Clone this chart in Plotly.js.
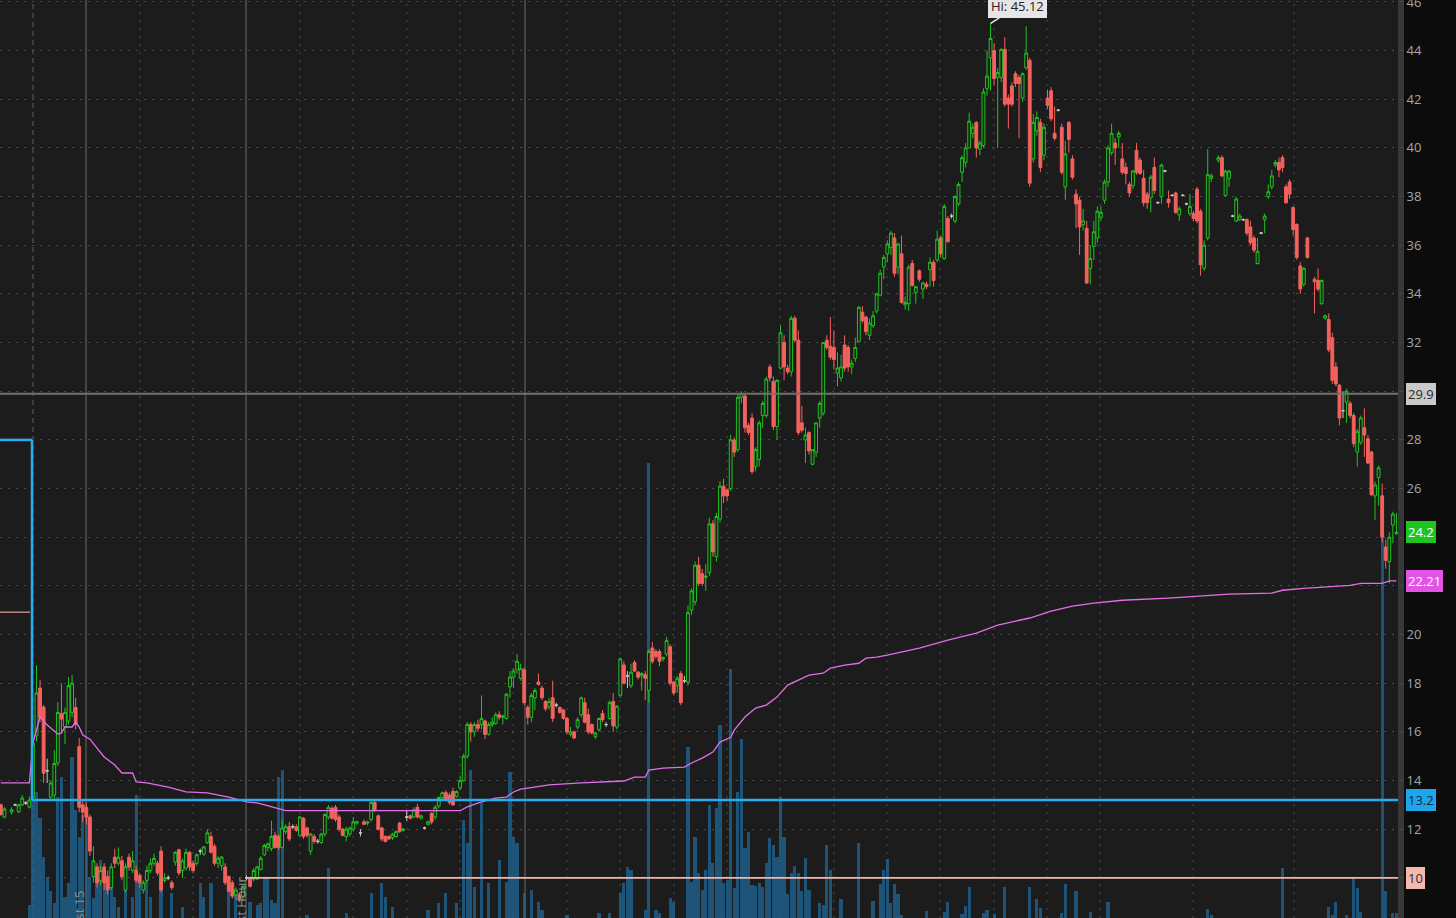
<!DOCTYPE html>
<html><head><meta charset="utf-8">
<script src="https://cdn.plot.ly/plotly-3.0.1.min.js"></script>
<style>html,body{margin:0;padding:0;background:#0c0c0c;overflow:hidden}#chart{width:1456px;height:918px}</style>
</head><body><div id="chart"></div>
<script>
// ---- DATA (1-minute bars; bar = slot number in the session) ----
const bar = [
0,1,3,4,5,6,7,8,9,
10,11,12,13,14,15,16,17,18,19,20,21,22,23,24,25,26,27,28,29,
30,31,32,33,34,35,36,37,38,39,40,41,42,43,44,45,46,47,48,49,
50,51,52,53,54,55,56,57,58,59,60,61,62,63,64,65,66,67,68,69,
70,71,72,73,74,75,76,77,78,79,80,81,82,83,84,85,86,87,88,89,
90,91,92,93,94,95,96,97,98,99,100,101,102,103,104,105,106,107,108,109,
110,111,112,113,114,115,116,117,118,119,120,121,122,123,124,125,126,127,128,129,
130,131,132,133,134,135,136,137,138,139,140,141,142,143,144,145,146,147,148,149,
150,151,152,153,154,155,156,157,158,159,160,161,162,163,164,165,166,167,168,169,
170,171,172,173,174,175,176,177,178,179,180,181,182,183,184,185,186,187,188,189,
190,191,192,193,194,195,196,197,198,199,200,201,202,203,204,205,206,207,208,209,
210,211,212,213,214,215,216,217,218,219,220,221,222,223,224,225,226,227,228,229,
230,231,232,233,234,235,236,237,238,239,240,241,242,243,244,245,246,247,248,249,
250,251,252,253,254,255,256,257,258,259,260,261,262,263,264,265,266,267,268,269,
270,271,272,273,274,275,276,277,278,279,280,281,282,283,284,285,286,287,288,289,
290,291,292,293,294,295,296,297,298,299,300,301,302,303,304,305,306,307,308,309,
310,311,312,313,314,315,316,317,318,319,320,321,322,323,324,325,326,327,328,329,
330,331,332,333,334,335,336,337,338,339,
340,342,343,344,345,346,347,348,349,
350,351,352,353,354,355,356,357,358,359,
360,361,362,363,364,365,366,367,369,
370,371,372,373,374,375,376,377,378,379,380,381,382,383,384,385,386,387,388,389,
390,391,392];

const open = [
13.00,12.50,12.70,13.00,12.72,13.00,13.08,12.91,13.32,
15.84,17.80,17.02,14.40,13.32,13.40,14.72,16.74,16.20,16.45,
16.80,17.00,15.40,13.00,12.90,12.50,10.05,10.45,9.90,10.45,
10.05,9.60,10.85,10.60,10.70,9.50,10.85,10.30,10.30,10.10,
9.50,9.90,10.30,10.60,10.60,11.10,9.90,10.00,9.80,10.65,
11.15,10.30,10.40,11.05,10.60,10.60,11.10,10.98,11.45,11.70,
11.30,10.60,10.50,10.45,10.05,9.80,9.30,9.30,9.25,10.00,
9.95,9.95,9.95,10.35,10.95,11.25,11.20,11.75,11.70,11.25,
11.90,12.10,12.10,12.10,11.75,12.45,12.05,11.10,11.70,11.50,
11.45,11.80,12.50,12.85,12.90,12.50,12.00,11.70,11.80,12.00,
12.25,11.85,12.30,12.25,12.40,13.10,12.55,12.05,11.70,11.70,
11.65,11.70,12.25,11.95,12.50,12.55,12.50,12.90,12.45,12.05,
12.20,12.65,12.50,12.95,13.30,13.50,13.40,13.55,13.35,13.70,
14.00,15.00,16.30,16.00,16.30,16.30,16.45,15.90,16.30,16.35,
16.70,16.60,16.55,17.85,18.25,18.55,18.20,18.55,17.00,16.60,
17.40,18.05,17.80,17.25,17.05,17.40,17.10,17.00,16.90,16.55,
15.90,16.00,16.20,16.70,17.20,16.70,16.30,15.80,16.10,16.75,
16.30,16.55,17.25,16.20,17.50,18.75,18.30,17.90,18.85,18.45,
18.30,18.35,17.70,19.45,19.30,19.30,19.00,19.20,19.50,18.05,
17.90,18.40,18.10,18.05,21.00,21.35,22.85,22.50,22.35,22.55,
24.55,23.20,24.75,26.10,25.95,26.00,28.00,27.60,29.75,29.80,
28.60,28.90,26.90,27.20,29.00,29.00,31.00,30.40,28.55,30.95,
32.00,30.95,30.80,33.00,32.10,28.70,28.00,28.30,27.00,27.50,
28.90,29.10,32.10,31.85,31.80,30.75,30.55,31.90,31.80,31.00,
31.35,32.05,33.25,33.05,32.30,32.70,33.30,33.95,35.10,35.65,
35.90,36.30,35.10,35.65,33.55,33.60,35.25,34.05,34.95,34.20,
34.40,35.00,35.30,35.40,36.30,35.45,37.10,37.20,37.00,37.70,
39.00,39.40,40.00,40.60,41.05,39.95,40.10,42.45,43.70,44.00,
42.90,42.90,44.05,42.05,42.55,43.05,42.90,42.05,43.30,43.60,
39.55,40.70,41.05,39.70,42.05,42.35,40.60,41.55,40.85,38.40,
41.05,39.55,38.10,37.85,36.85,36.70,35.05,35.95,36.30,37.15,
37.85,38.60,39.80,40.20,40.45,39.55,39.20,38.50,38.45,39.90,
39.50,38.75,38.10,37.95,39.20,37.75,38.00,39.05,37.90,38.05,
38.15,37.25,38.05,37.70,37.30,37.30,38.30,37.40,35.05,36.30,
38.75,39.50,39.60,38.05,38.75,37.20,37.00,37.05,37.05,
37.05,36.75,36.30,35.25,36.50,37.05,38.00,38.40,39.30,39.40,
39.60,38.40,38.60,37.55,36.85,35.15,34.40,36.30,34.60,
34.55,33.60,33.00,32.95,32.20,31.00,30.25,29.20,29.55,29.50,
29.00,27.50,27.90,28.50,28.05,27.50,25.70,26.45,25.70,23.60,
23.00,24.50,24.15];

const high = [
13.05,12.90,12.90,13.05,13.05,13.40,13.15,13.35,15.80,
18.74,18.13,17.10,14.90,14.00,15.25,17.22,18.00,17.00,18.25,
18.33,17.40,15.75,13.20,13.10,12.60,11.30,10.60,10.50,10.60,
10.30,10.60,11.20,11.25,10.90,10.60,11.00,11.10,10.50,10.20,
9.90,10.50,10.80,11.00,10.70,11.30,10.20,10.10,9.90,11.10,
11.20,10.80,11.20,11.10,10.70,11.00,11.20,11.30,12.00,11.90,
11.40,10.90,10.90,10.60,10.10,9.90,9.60,9.40,9.70,10.10,
10.05,10.40,10.50,10.90,11.40,11.45,12.35,11.90,11.80,12.40,
12.20,12.30,12.20,12.20,12.55,12.50,12.10,11.85,11.80,11.60,
11.85,12.65,13.00,12.95,13.00,12.60,12.05,12.10,12.10,12.50,
12.35,12.00,12.40,12.35,13.20,13.20,12.60,12.10,11.75,11.75,
11.85,11.95,12.30,12.05,12.80,12.60,12.90,13.05,12.60,12.10,
12.35,12.70,13.00,13.35,13.55,13.60,13.50,13.70,13.60,14.20,
15.10,16.40,16.40,16.40,16.50,17.50,16.50,16.40,16.60,16.80,
16.85,16.70,17.60,18.50,18.60,19.20,18.80,18.65,17.10,17.60,
17.80,18.40,17.90,17.30,17.40,18.10,17.20,17.05,16.95,16.60,
16.20,16.05,16.60,17.45,17.40,16.95,16.35,16.00,16.60,16.90,
16.40,17.30,17.60,17.10,19.05,18.90,18.50,18.80,18.95,18.50,
18.45,18.50,19.40,19.70,19.40,19.40,19.10,19.90,19.60,18.10,
18.30,18.50,18.30,21.20,21.90,23.00,23.20,22.70,22.90,24.80,
24.70,25.00,26.30,26.40,26.00,28.20,28.10,29.90,30.00,29.90,
28.70,29.10,27.70,28.80,29.60,30.60,31.10,30.60,30.50,32.70,
32.30,31.10,33.10,33.10,32.50,29.40,28.50,28.35,27.60,28.70,
29.60,32.00,32.30,33.05,32.50,31.60,31.50,32.30,31.90,31.30,
32.20,33.50,33.50,33.10,33.00,33.30,34.05,35.00,35.60,36.20,
36.60,36.50,36.10,36.40,33.90,35.20,35.40,34.30,35.00,34.50,
34.50,35.50,35.40,36.60,36.40,37.70,37.20,37.30,38.05,38.60,
39.70,40.20,41.45,41.00,41.10,40.30,42.45,44.00,45.12,44.30,
43.30,44.10,44.55,42.20,42.70,43.15,43.00,43.10,45.00,43.70,
41.40,41.50,41.20,41.00,42.40,42.50,41.70,41.60,41.00,40.30,
41.10,39.70,38.30,38.00,37.50,37.00,36.00,37.00,37.60,37.60,
38.70,40.10,41.00,40.40,40.70,40.20,39.40,38.60,39.10,40.20,
39.60,39.10,38.20,38.90,39.60,37.80,39.35,39.10,38.25,38.10,
38.20,37.60,38.10,37.75,38.10,37.40,38.40,37.50,36.20,39.95,
38.95,39.70,39.70,39.10,39.10,37.25,38.00,37.30,37.10,
37.10,37.00,36.40,36.30,36.55,37.30,38.50,39.10,39.50,39.60,
39.70,38.50,38.70,37.60,36.90,35.30,35.10,36.35,34.70,
35.05,34.60,33.15,33.20,32.40,31.20,30.30,30.00,30.10,29.60,
29.10,28.45,29.00,29.30,28.20,27.55,26.30,26.95,26.20,23.90,
24.20,25.05,25.00];

const low = [
12.55,12.45,12.60,12.95,12.65,12.95,13.00,12.85,13.20,
15.60,16.40,13.90,13.90,13.20,13.20,14.60,16.00,15.50,16.30,
16.60,16.10,12.70,12.30,12.20,10.90,9.80,9.60,9.70,9.50,
9.30,9.50,10.40,10.50,9.90,9.40,10.30,10.20,9.80,9.60,
9.35,9.80,10.20,10.50,10.10,9.40,9.80,9.90,9.50,10.50,
10.10,10.00,10.30,10.30,10.20,10.50,10.95,10.90,11.40,11.00,
10.50,10.40,10.30,9.70,9.40,9.15,9.10,9.00,9.05,9.90,
9.60,9.85,9.90,10.30,10.90,11.10,11.10,11.20,11.15,11.20,
11.80,11.50,12.00,11.90,11.70,11.60,11.65,10.95,11.40,11.40,
11.40,11.70,12.40,12.40,12.30,11.90,11.70,11.50,11.70,11.90,
12.20,11.70,12.20,12.15,12.30,12.70,11.95,11.50,11.45,11.55,
11.55,11.65,11.85,11.90,12.35,12.40,12.45,12.45,12.40,12.00,
12.15,12.20,12.40,12.85,13.20,13.15,13.00,12.95,13.30,13.60,
13.95,14.90,15.60,15.80,16.00,16.10,15.70,15.85,16.20,16.30,
16.50,16.30,16.50,17.40,17.80,18.40,18.10,17.10,16.30,16.40,
16.90,17.90,17.30,16.85,16.90,16.40,17.00,16.75,16.50,15.90,
15.80,15.70,16.10,16.60,16.35,15.90,15.90,15.70,16.00,16.40,
16.20,16.50,16.00,16.10,17.40,17.95,17.80,17.80,18.45,18.15,
17.70,17.30,17.20,18.80,19.00,18.70,18.90,19.10,17.90,17.50,
17.60,17.10,18.00,17.90,20.80,21.20,22.00,22.00,21.80,22.40,
23.20,23.00,24.60,25.40,25.50,25.90,27.30,27.50,29.50,28.30,
28.20,26.60,26.70,26.90,28.50,28.90,30.40,28.40,28.00,30.90,
30.45,30.70,30.60,32.00,28.20,28.30,27.05,27.40,26.95,27.30,
28.50,29.00,31.70,31.30,30.90,30.20,30.40,30.80,30.80,30.70,
31.20,32.00,32.80,32.30,32.10,32.60,33.20,33.90,34.60,35.30,
35.60,34.70,34.80,33.60,33.35,33.30,34.30,33.60,34.50,33.80,
34.20,34.30,34.30,35.30,35.50,35.40,36.10,37.10,36.90,37.60,
38.60,39.20,40.00,40.40,39.60,39.70,40.00,42.15,42.35,42.60,
40.00,42.70,41.70,40.80,41.70,42.50,40.40,41.90,43.20,38.40,
39.40,40.50,39.00,39.50,41.60,41.10,40.30,41.50,38.90,37.85,
39.80,38.70,36.70,35.60,36.60,34.40,34.40,35.40,36.10,37.00,
37.70,38.40,39.70,39.30,40.00,38.90,38.50,38.00,38.30,38.90,
38.90,37.60,37.50,37.35,38.10,37.70,37.70,39.00,37.55,38.00,
37.30,37.00,38.00,37.65,37.20,37.00,36.90,34.75,34.95,36.20,
38.60,39.40,38.80,38.00,38.40,37.15,36.95,37.00,37.00,
36.40,36.00,35.70,35.20,36.45,36.50,37.90,38.30,39.20,38.80,
39.00,37.70,37.90,36.40,35.40,34.00,34.30,35.45,33.20,
34.10,33.55,32.95,31.60,30.30,30.20,28.60,28.90,28.70,28.90,
27.70,26.90,27.80,27.30,27.00,25.70,24.70,25.30,23.80,22.70,
22.10,23.75,24.10];

const close = [
12.60,12.83,12.80,13.00,13.00,13.28,13.08,13.20,15.54,
17.60,16.60,14.30,14.40,13.90,14.70,16.80,16.53,16.80,17.90,
18.00,16.30,12.90,12.70,12.50,11.10,10.70,9.80,10.30,9.80,
9.50,10.45,10.60,10.85,10.05,10.45,10.45,10.70,9.90,9.80,
9.80,10.30,10.60,10.80,10.20,9.50,10.00,10.00,9.60,11.05,
10.20,10.70,11.05,10.45,10.30,10.95,11.10,11.27,11.85,11.05,
10.60,10.80,10.85,9.80,9.45,9.25,9.50,9.10,9.65,10.00,
9.65,10.30,10.45,10.80,11.33,11.40,11.70,11.25,11.25,12.05,
12.10,11.60,12.10,11.95,12.50,11.70,11.75,11.80,11.50,11.50,
11.80,12.60,12.90,12.45,12.40,12.00,11.75,12.00,12.05,12.30,
12.30,11.85,12.20,12.30,13.10,12.80,12.00,11.60,11.50,11.60,
11.80,11.90,11.90,12.00,12.50,12.45,12.80,12.50,12.55,12.05,
12.30,12.30,12.90,13.30,13.50,13.20,13.10,13.00,13.55,14.00,
15.00,16.30,16.00,16.30,16.15,16.55,15.90,16.30,16.40,16.70,
16.60,16.65,17.55,18.25,18.50,18.90,18.60,17.20,16.60,17.50,
17.70,17.95,17.40,16.95,17.25,16.55,17.10,16.80,16.55,16.00,
16.00,15.75,16.50,17.40,16.40,16.00,15.95,15.95,16.55,16.50,
16.30,17.20,16.25,17.05,19.00,18.00,18.30,18.45,18.50,18.25,
18.40,18.20,19.30,18.90,19.10,18.90,19.05,19.75,18.00,17.60,
18.20,17.20,18.10,20.90,21.80,22.85,22.10,22.10,22.40,24.55,
23.40,24.85,26.10,25.70,25.70,28.00,27.50,29.75,29.90,28.50,
28.30,26.70,27.60,28.70,29.50,30.50,30.55,28.55,30.45,32.40,
31.00,30.80,33.00,32.10,28.30,28.40,28.20,27.55,27.60,28.70,
29.50,32.00,31.80,31.40,31.30,30.95,31.00,30.95,31.00,31.15,
31.80,33.45,32.90,32.45,32.80,33.10,34.00,34.85,35.50,36.05,
36.50,34.85,36.05,33.65,33.65,35.10,34.35,34.30,34.60,34.45,
34.30,35.30,34.55,36.25,35.65,37.60,36.15,37.20,38.00,38.50,
39.60,40.00,41.10,40.85,40.00,40.20,42.30,42.95,44.50,42.85,
43.10,44.05,41.80,41.80,41.80,42.65,42.65,43.05,43.90,38.55,
41.05,41.25,39.20,40.85,41.75,41.20,40.40,41.55,39.00,39.75,
40.35,38.80,37.70,36.75,37.00,34.45,35.45,36.55,37.40,37.35,
38.60,40.00,40.60,40.00,40.60,39.00,38.95,38.15,39.05,39.00,
38.95,37.75,37.75,38.80,38.25,37.75,39.30,39.05,37.75,38.05,
37.35,37.50,38.05,37.70,37.60,37.10,37.00,35.20,36.00,38.90,
38.85,39.60,38.85,39.05,39.05,37.20,37.90,37.20,37.05,
36.50,36.10,35.80,35.75,36.50,37.20,38.20,38.85,39.40,39.10,
39.20,37.75,38.10,36.65,35.50,34.20,35.05,35.50,34.50,
34.20,34.55,33.10,31.70,30.45,30.30,28.90,29.20,30.00,29.00,
27.85,28.35,28.90,28.20,27.05,25.75,26.15,26.85,24.00,23.05,
24.00,24.95,24.20];

// volume, thousands of shares
const volBar = [8,9,10,11,12,13,14,15,16,17,18,19,20,21,22,23,24,25,26,27,28,29,30,31,32,33,
35,37,38,39,41,42,45,48,51,56,57,59,64,66,70,72,73,74,75,76,77,78,79,86,92,97,104,107,108,110,
120,123,125,128,130,131,132,133,135,137,140,142,143,144,145,147,149,151,152,159,
168,171,174,175,176,177,181,182,184,185,188,189,193,194,195,196,197,198,199,200,
201,202,203,204,205,206,207,208,209,210,211,212,213,214,215,216,217,218,219,220,
221,222,223,224,225,226,227,230,231,232,233,236,241,245,247,248,249,
250,251,252,253,260,265,266,270,271,272,276,277,279,282,289,291,292,298,299,302,
306,311,339,340,360,373,374,375,378,380,381,382,388,389,391,392];
const volK = [13,126,126,100,61,41,27,15,121,141,21,35,161,108,81,103,101,41,20,38,58,48,35,38,21,11,
35,21,123,35,38,21,35,25,11,35,21,35,31,28,16,13,15,41,41,18,15,141,148,3,50,5,25,35,21,11,
8,15,25,15,98,75,148,31,115,35,58,36,146,81,75,25,28,16,8,3,
5,5,25,35,51,48,8,455,8,5,20,16,171,36,81,45,28,48,113,55,
110,193,35,38,249,30,126,179,70,86,33,32,35,31,55,80,73,61,121,81,
24,45,52,45,27,60,28,15,13,73,48,19,75,17,34,48,59,
15,34,24,3,7,6,16,4,12,31,5,8,4,31,31,19,10,5,34,27,
6,16,9,3,50,11,3,16,3,41,30,6,380,27,5,5];

// VWAP study
const vwapBar = [0,8,9,11,13,16,17,18,20,21,22,23,25,27,29,32,34,37,38,41,47,52,58,64,69,72,78,80,106,129,
131,135,139,142,144,146,148,154,163,171,175,178,181,182,186,192,194,197,200,202,205,206,209,212,215,218,221,224,227,231,
233,237,241,243,246,249,258,266,274,280,289,295,301,307,315,328,336,345,357,360,366,373,379,382,388,390,392];
const vwap = [13.90,13.90,15.54,16.61,16.28,15.91,15.95,16.20,16.20,16.40,16.20,15.87,15.70,15.33,14.97,14.64,14.31,14.31,13.94,13.90,
13.73,13.53,13.49,13.32,13.12,13.08,12.83,12.76,12.76,12.76,12.92,13.12,13.28,13.32,13.53,13.65,13.69,13.82,13.90,13.94,
13.98,14.14,14.14,14.43,14.51,14.55,14.72,14.92,15.17,15.58,15.78,16.07,16.61,16.98,17.10,17.43,17.92,18.13,18.33,18.41,
18.62,18.74,18.82,19.03,19.07,19.15,19.44,19.77,20.06,20.39,20.68,20.96,21.17,21.29,21.41,21.50,21.58,21.66,21.70,21.82,
21.90,21.98,22.02,22.10,22.10,22.21,22.21];

// price levels
const levelPrior = 28.0;     // pre-market level (blue, before the open)
const levelBlue = 13.2;      // blue level after the open
const levelGray = 29.9;      // gray level
const levelPink = 10.0;      // pink level
const levelSalmon = 20.92;   // short pre-market salmon line
const priceTicks = [10,12,14,16,18,20,22,24,26,28,30,32,34,36,38,40,42,44,46];

// ---- BUILD ----
const W = 1398, H = 918;
const px = v => v / W; // paper x from pixel
const isDoji = bar.map((b,i) => open[i] === close[i]);
const pick = (arr, want) => arr.filter((v,i) => isDoji[i] === want);

const GREEN = '#1fc41f', RED = '#f4625e';

const traces = [
  { type:'bar', x: volBar, y: volK, xaxis:'x', yaxis:'y',
    marker:{color:'rgba(30,100,145,0.78)', line:{width:0}}, width:0.9, hoverinfo:'skip' },
  { type:'scatter', mode:'lines', x: vwapBar, y: vwap, xaxis:'x', yaxis:'y2',
    line:{color:'#e46ee8', width:1.3}, hoverinfo:'skip' },
  { type:'candlestick', x: pick(bar,false), open: pick(open,false), high: pick(high,false),
    low: pick(low,false), close: pick(close,false), xaxis:'x', yaxis:'y2', whiskerwidth:0,
    increasing:{line:{color:GREEN, width:1}, fillcolor:'#1c1c1c'},
    decreasing:{line:{color:RED, width:1}, fillcolor:RED}, hoverinfo:'skip' },
  { type:'candlestick', x: pick(bar,true), open: pick(open,true), high: pick(high,true),
    low: pick(low,true), close: pick(close,true), xaxis:'x', yaxis:'y2', whiskerwidth:0,
    increasing:{line:{color:'#c8c8c8', width:1}, fillcolor:'#c8c8c8'},
    decreasing:{line:{color:'#c8c8c8', width:1}, fillcolor:'#c8c8c8'}, hoverinfo:'skip' }
];

const shapes = [];
// dotted vertical grid
[140,193,300,353,407,460,513,567,620,674,727,780,834,887,940,994,1047,1100,1193,1294].forEach(p => {
  shapes.push({type:'line', xref:'paper', yref:'paper', x0:px(p), x1:px(p), y0:0, y1:1,
    line:{color:'#4a4a4a', width:1, dash:'2px,6px'}, layer:'below'});
});
// session separators
shapes.push({type:'line', xref:'paper', yref:'paper', x0:px(33), x1:px(33), y0:0, y1:1,
  line:{color:'#5e5e5e', width:1, dash:'5px,4px'}, layer:'below'});
[86,246,525].forEach(p => shapes.push({type:'line', xref:'paper', yref:'paper', x0:px(p), x1:px(p), y0:0, y1:1,
  line:{color:'#6a6a6a', width:1}, layer:'below'}));
// right axis band
shapes.push({type:'rect', xref:'paper', yref:'paper', x0:1, x1:1+6/W, y0:0, y1:1,
  fillcolor:'#383838', line:{width:0}, layer:'below'});
// level lines
shapes.push({type:'line', xref:'paper', yref:'y2', x0:0, x1:1, y0:levelGray, y1:levelGray,
  line:{color:'#707070', width:2}, layer:'above'});
shapes.push({type:'line', xref:'paper', yref:'y2', x0:px(247), x1:1, y0:levelPink, y1:levelPink,
  line:{color:'#f2b6ad', width:1.6}, layer:'above'});
shapes.push({type:'line', xref:'paper', yref:'y2', x0:0, x1:px(30), y0:levelSalmon, y1:levelSalmon,
  line:{color:'#e9a39a', width:1.2}, layer:'above'});
shapes.push({type:'line', xref:'paper', yref:'y2', x0:0, x1:px(32), y0:levelPrior, y1:levelPrior,
  line:{color:'#27adf0', width:2.5}, layer:'above'});
shapes.push({type:'line', xref:'paper', yref:'y2', x0:px(32), x1:px(32), y0:levelPrior, y1:levelBlue,
  line:{color:'#27adf0', width:2.5}, layer:'above'});
shapes.push({type:'line', xref:'paper', yref:'y2', x0:px(32), x1:1, y0:levelBlue, y1:levelBlue,
  line:{color:'#27adf0', width:2.5}, layer:'above'});

// right-side value tags
const lastClose = close[close.length-1];
const lastVwap = vwap[vwap.length-1];
const tag = (y, text, bg, fg) => ({xref:'paper', yref:'y2', x:1, y:y, xanchor:'left', yanchor:'middle',
  xshift:8, text:text, showarrow:false, bgcolor:bg, bordercolor:bg, borderpad:1,
  font:{family:'Open Sans', size:13, color:fg}});
let hiIdx = 0; high.forEach((h,i) => { if (h > high[hiIdx]) hiIdx = i; });

const annotations = [
  tag(levelGray, String(levelGray), '#c9c9c9', '#2a2a2a'),
  tag(lastClose, String(lastClose), '#1fc41f', '#ffffff'),
  tag(lastVwap, lastVwap.toFixed(2), '#e354e6', '#ffffff'),
  tag(levelBlue, String(levelBlue), '#1ea6ec', '#0e2a40'),
  tag(levelPink, String(levelPink), '#f5b8af', '#2a2a2a'),
  {xref:'x', yref:'y2', x: bar[hiIdx], y: high[hiIdx], text:'Hi: ' + high[hiIdx].toFixed(2),
   showarrow:true, arrowhead:0, arrowwidth:1.5, arrowcolor:'#e6e6e6', ax:27, ay:-17,
   bgcolor:'#e6e6e6', bordercolor:'#e6e6e6', borderpad:2,
   font:{family:'Open Sans', size:13, color:'#222'}},
  {xref:'paper', yref:'paper', x:px(78.5), y:(H-888)/H, xanchor:'center', yanchor:'top',
   text:'1st 15', textangle:-90, showarrow:false, font:{family:'Open Sans', size:13, color:'#8e8e8e'}},
  {xref:'paper', yref:'paper', x:px(240), y:(H-875)/H, xanchor:'center', yanchor:'top',
   text:'1st Hour', textangle:-90, showarrow:false, font:{family:'Open Sans', size:13, color:'#8e8e8e'}}
];

const layout = {
  width:1456, height:918, margin:{l:0, r:58, t:0, b:0},
  paper_bgcolor:'#0c0c0c', plot_bgcolor:'#1c1c1c',
  showlegend:false, boxgap:0.12, boxgroupgap:0.1, bargap:0,
  xaxis:{range:[-0.25, 392.45], showgrid:false, zeroline:false, showticklabels:false,
    showline:false, ticks:'', rangeslider:{visible:false}, fixedrange:true},
  yaxis:{range:[0, 918], visible:false, fixedrange:true},
  yaxis2:{overlaying:'y', side:'right', range:[8.35, 46.08], tickvals:priceTicks,
    showgrid:true, gridcolor:'#4a4a4a', griddash:'2px,6px', gridwidth:1, zeroline:false,
    ticks:'outside', ticklen:5, tickcolor:'#484848', showline:false, ticklabeloverflow:'allow',
    tickfont:{family:'Open Sans', size:13, color:'#a6a6a6'}, fixedrange:true},
  shapes:shapes, annotations:annotations
};

Plotly.newPlot('chart', traces, layout, {displayModeBar:false, staticPlot:true});
</script>
</body></html>
